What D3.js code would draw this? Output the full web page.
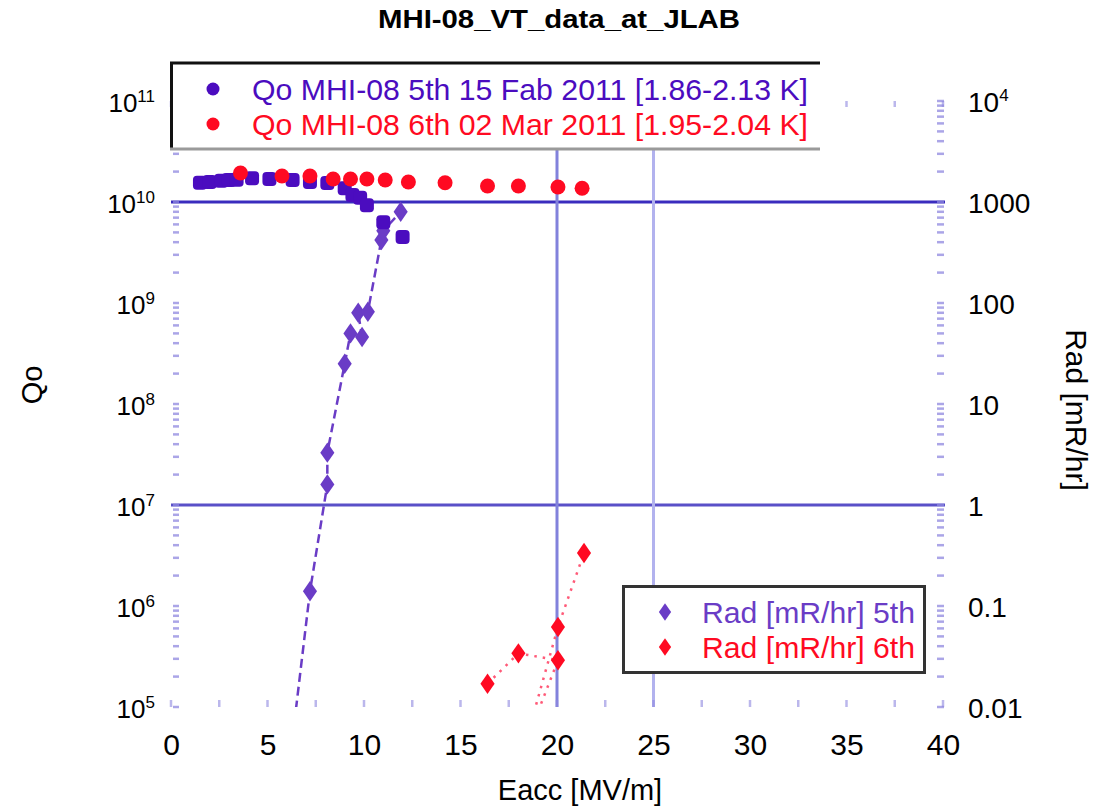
<!DOCTYPE html>
<html>
<head>
<meta charset="utf-8">
<script src="https://cdn.jsdelivr.net/npm/d3@7"></script>
<style>
body { margin: 0; background: #fff; }
svg { display: block; font-family: 'Liberation Sans', Arial, sans-serif; }
</style>
</head>
<body>
<svg></svg>
<script>
// Qo, 5th test (15 Feb 2011)
let eacc5 = [1.5, 2.0, 2.6, 3.0, 3.4, 4.2, 5.1, 6.3, 7.2, 8.1, 9.0, 9.4, 9.8, 10.15, 11.0, 12.0]
let qo5 = [1.55e10, 1.58e10, 1.62e10, 1.65e10, 1.66e10, 1.72e10, 1.69e10, 1.65e10, 1.58e10, 1.54e10, 1.37e10, 1.17e10, 1.1e10, 0.93e10, 0.63e10, 0.45e10]

// Qo, 6th test (02 Mar 2011)
let eacc6 = [3.6, 5.75, 7.2, 8.4, 9.3, 10.15, 11.1, 12.3, 14.2, 16.4, 18.0, 20.05, 21.3]
let qo6 = [1.94e10, 1.81e10, 1.81e10, 1.69e10, 1.69e10, 1.69e10, 1.65e10, 1.58e10, 1.55e10, 1.44e10, 1.44e10, 1.41e10, 1.37e10]

// radiation
let radEacc5 = [6.3, 7.2, 8.1, 8.1, 9.0, 9.3, 9.9, 9.7, 10.2, 10.9, 11.0, 11.9]
let rad5 = [0.005, 0.14, 1.6, 3.3, 25, 50, 46, 80, 82, 420, 520, 800]
let radEacc6 = [16.4, 18.0, 20.05, 18.3, 20.05, 21.4]
let rad6 = [0.017, 0.034, 0.029, 0.004, 0.062, 0.335]

// ticks
let xTicks = [0, 5, 10, 15, 20, 25, 30, 35, 40]
let qoTicks = [1e5, 1e6, 1e7, 1e8, 1e9, 1e10, 1e11]
let qoExponents = ['5', '6', '7', '8', '9', '10', '11']
let radTicks = [0.01, 0.1, 1, 10, 100, 1000, 1e4]
let radLabels = ['0.01', '0.1', '1', '10', '100', '1000', '10']

let legendQo = ['Qo MHI-08 5th 15 Fab 2011 [1.86-2.13 K]', 'Qo MHI-08 6th 02 Mar 2011 [1.95-2.04 K]']
let legendRad = ['Rad [mR/hr] 5th', 'Rad [mR/hr] 6th']

let width = 1099
let height = 808
let plotLeft = 171
let plotRight = 943
let plotTop = 101
let plotBottom = 707

let purple = '#4b0cbf'
let purpleRad = '#6a3cc6'
let red = '#ff0a22'
let pink = '#ff5a78'

let svg = d3.select('svg')
  .attr('width', width)
  .attr('height', height)

let xScale = d3.scaleLinear().domain([0, 40]).range([plotLeft, plotRight])
let qoScale = d3.scaleLog().domain([1e5, 1e11]).range([plotBottom, plotTop])
let radScale = d3.scaleLog().domain([0.01, 1e4]).range([plotBottom, plotTop])

let drawGrid = () => {
  let grid = svg.append('g')
  grid.append('line')
    .attr('x1', plotLeft).attr('x2', plotRight + 2)
    .attr('y1', qoScale(1e10)).attr('y2', qoScale(1e10))
    .attr('stroke', '#3a2cbe').attr('stroke-width', 3)
  grid.append('line')
    .attr('x1', plotLeft).attr('x2', plotRight + 2)
    .attr('y1', qoScale(1e7)).attr('y2', qoScale(1e7))
    .attr('stroke', '#5a50c8').attr('stroke-width', 3)
  grid.append('line')
    .attr('x1', xScale(20)).attr('x2', xScale(20))
    .attr('y1', plotTop).attr('y2', plotBottom)
    .attr('stroke', '#8282dc').attr('stroke-width', 3)
  grid.append('line')
    .attr('x1', xScale(25)).attr('x2', xScale(25))
    .attr('y1', plotTop).attr('y2', plotBottom)
    .attr('stroke', '#b2b2ee').attr('stroke-width', 3)
}

let drawTicks = () => {
  let ticks = svg.append('g')
  ticks.selectAll('.ltick')
    .data(qoScale.ticks())
    .enter()
    .append('line')
    .attr('x1', plotLeft + 2).attr('x2', plotLeft + 8)
    .attr('y1', (d) => qoScale(d)).attr('y2', (d) => qoScale(d))
    .attr('stroke', '#8f88e0').attr('stroke-width', 2.5).attr('opacity', 0.75)
  ticks.selectAll('.rtick')
    .data(radScale.ticks())
    .enter()
    .append('line')
    .attr('x1', plotRight - 6).attr('x2', plotRight + 1)
    .attr('y1', (d) => radScale(d)).attr('y2', (d) => radScale(d))
    .attr('stroke', '#8f88e0').attr('stroke-width', 2.5).attr('opacity', 0.75)
  let xMinor = d3.range(0, 41, 2.5)
  ticks.selectAll('.btick')
    .data(xMinor)
    .enter()
    .append('line')
    .attr('x1', (d) => xScale(d)).attr('x2', (d) => xScale(d))
    .attr('y1', plotBottom - 7).attr('y2', plotBottom)
    .attr('stroke', '#8f88e0').attr('stroke-width', 2.5).attr('opacity', 0.6)
  ticks.selectAll('.ttick')
    .data(xMinor)
    .enter()
    .append('line')
    .attr('x1', (d) => xScale(d)).attr('x2', (d) => xScale(d))
    .attr('y1', plotTop).attr('y2', plotTop + 6)
    .attr('stroke', '#8f88e0').attr('stroke-width', 2.5).attr('opacity', 0.6)
}

let drawAxis = () => {
  let xAxis = d3.axisBottom(xScale)
    .tickValues(xTicks)
    .tickSize(0)
    .tickPadding(27)
    .tickFormat(d3.format('d'))
  let gx = svg.append('g')
    .attr('transform', 'translate(0, ' + plotBottom + ')')
    .call(xAxis)
  gx.select('.domain').remove()
  gx.selectAll('text')
    .style('font-size', '30px')
    .attr('fill', '#000')
    .style('font-family', 'Liberation Sans, Arial, sans-serif')

  let yAxis = d3.axisLeft(qoScale)
    .tickValues(qoTicks)
    .tickSize(0)
    .tickPadding(16)
  let gy = svg.append('g')
    .attr('transform', 'translate(' + plotLeft + ', 0)')
    .call(yAxis)
  gy.select('.domain').remove()
  gy.selectAll('text')
    .text('')
    .attr('fill', '#000')
    .style('font-family', 'Liberation Sans, Arial, sans-serif')
    .style('font-size', '26px')
    .attr('dy', '0.42em')
    .each(function (d, i) {
      let t = d3.select(this)
      t.append('tspan').text('10')
      t.append('tspan').text(qoExponents[i]).attr('dy', '-0.6em').style('font-size', '17px')
    })

  let rAxis = d3.axisRight(radScale)
    .tickValues(radTicks)
    .tickSize(0)
    .tickPadding(25)
    .tickFormat((d, i) => radLabels[i])
  let gr = svg.append('g')
    .attr('transform', 'translate(' + plotRight + ', 0)')
    .call(rAxis)
  gr.select('.domain').remove()
  gr.selectAll('text')
    .attr('fill', '#000')
    .style('font-family', 'Liberation Sans, Arial, sans-serif')
    .style('font-size', '28px')
    .attr('dy', '0.36em')
    .filter((d) => d === 1e4)
    .append('tspan').text('4').attr('dy', '-0.6em').style('font-size', '17px')

  svg.append('text')
    .attr('x', 580)
    .attr('y', 800)
    .attr('text-anchor', 'middle')
    .style('font-size', '29px')
    .text('Eacc [MV/m]')

  svg.append('text')
    .attr('transform', 'translate(42, 385) rotate(-90)')
    .attr('text-anchor', 'middle')
    .style('font-size', '29px')
    .text('Qo')

  svg.append('text')
    .attr('transform', 'translate(1066, 410) rotate(90)')
    .attr('text-anchor', 'middle')
    .style('font-size', '30px')
    .text('Rad [mR/hr]')

  svg.append('text')
    .attr('x', 559)
    .attr('y', 28)
    .attr('text-anchor', 'middle')
    .style('font-size', '25px')
    .style('font-weight', 'bold')
    .attr('textLength', 362)
    .attr('lengthAdjust', 'spacingAndGlyphs')
    .text('MHI-08_VT_data_at_JLAB')
}

let drawSeries = () => {
  svg.append('clipPath')
    .attr('id', 'plot-clip')
    .append('rect')
    .attr('x', plotLeft).attr('y', plotTop)
    .attr('width', plotRight - plotLeft + 2).attr('height', plotBottom - plotTop)

  let plot = svg.append('g').attr('clip-path', 'url(#plot-clip)')

  let rad5Points = radEacc5.map((e, i) => [e, rad5[i]])
  let rad6Points = radEacc6.map((e, i) => [e, rad6[i]])
  let radLine = d3.line()
    .x((d) => xScale(d[0]))
    .y((d) => radScale(d[1]))

  plot.append('path')
    .attr('d', radLine(rad5Points))
    .attr('fill', 'none')
    .attr('stroke', purpleRad)
    .attr('stroke-width', 2.5)
    .attr('stroke-dasharray', '9,5')

  plot.append('path')
    .attr('d', radLine(rad6Points))
    .attr('fill', 'none')
    .attr('stroke', pink)
    .attr('stroke-width', 2.5)
    .attr('stroke-dasharray', '2.5,6')

  let diamond = d3.symbol().type(d3.symbolDiamond).size(120)

  plot.selectAll('.rad5')
    .data(rad5Points)
    .enter()
    .append('path')
    .attr('d', diamond)
    .attr('transform', (d) => 'translate(' + xScale(d[0]) + ',' + radScale(d[1]) + ') scale(1.2, 1)')
    .attr('fill', purpleRad)

  plot.selectAll('.rad6')
    .data(rad6Points)
    .enter()
    .append('path')
    .attr('d', diamond)
    .attr('transform', (d) => 'translate(' + xScale(d[0]) + ',' + radScale(d[1]) + ') scale(1.2, 1)')
    .attr('fill', red)

  plot.selectAll('.qo5')
    .data(eacc5)
    .enter()
    .append('rect')
    .attr('x', (d) => xScale(d) - 7)
    .attr('y', (d, i) => qoScale(qo5[i]) - 7)
    .attr('width', 14).attr('height', 14)
    .attr('rx', 4)
    .attr('fill', purple)

  plot.selectAll('.qo6')
    .data(eacc6)
    .enter()
    .append('circle')
    .attr('cx', (d) => xScale(d))
    .attr('cy', (d, i) => qoScale(qo6[i]))
    .attr('r', 7.5)
    .attr('fill', red)
}

let drawLegends = () => {
  let lg = svg.append('g')
  lg.append('rect')
    .attr('x', 170).attr('y', 62)
    .attr('width', 650).attr('height', 88)
    .attr('fill', '#fff')
  lg.append('line').attr('x1', 170).attr('x2', 820).attr('y1', 63).attr('y2', 63)
    .attr('stroke', '#111').attr('stroke-width', 3)
  lg.append('line').attr('x1', 171.5).attr('x2', 171.5).attr('y1', 62).attr('y2', 150)
    .attr('stroke', '#111').attr('stroke-width', 3)
  lg.append('line').attr('x1', 170).attr('x2', 820).attr('y1', 149).attr('y2', 149)
    .attr('stroke', '#9a9a9a').attr('stroke-width', 3)

  let qoColors = [purple, red]
  legendQo.forEach((label, i) => {
    lg.append('circle')
      .attr('cx', 213).attr('cy', 89 + i * 35)
      .attr('r', 6.5)
      .attr('fill', qoColors[i])
    lg.append('text')
      .attr('x', 252).attr('y', 100 + i * 35)
      .style('font-size', '30px')
      .attr('fill', qoColors[i])
      .attr('textLength', 556)
      .attr('lengthAdjust', 'spacingAndGlyphs')
      .text(label)
  })

  let rg = svg.append('g')
  rg.append('rect')
    .attr('x', 623.5).attr('y', 586.5)
    .attr('width', 301).attr('height', 86)
    .attr('fill', '#fff')
    .attr('stroke', '#333')
    .attr('stroke-width', 3)

  let radColors = [purpleRad, red]
  let diamond = d3.symbol().type(d3.symbolDiamond).size(90)
  legendRad.forEach((label, i) => {
    rg.append('path')
      .attr('d', diamond)
      .attr('transform', 'translate(665,' + (612 + i * 35) + ') scale(1.2, 1)')
      .attr('fill', radColors[i])
    rg.append('text')
      .attr('x', 702).attr('y', 623 + i * 35)
      .style('font-size', '30px')
      .attr('fill', radColors[i])
      .attr('textLength', 213)
      .attr('lengthAdjust', 'spacingAndGlyphs')
      .text(label)
  })
}

drawGrid()
drawTicks()
drawSeries()
drawAxis()
drawLegends()
</script>
</body>
</html>
